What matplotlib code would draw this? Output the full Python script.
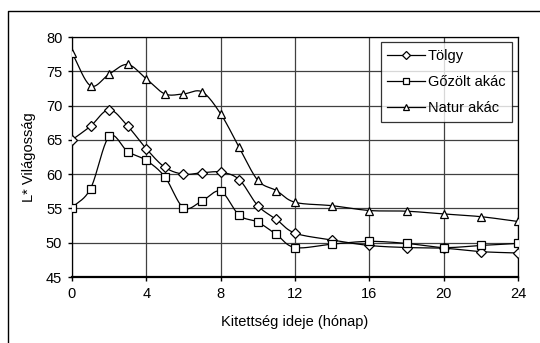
import numpy as np
import matplotlib.pyplot as plt
from matplotlib.lines import Line2D

plt.rcParams['font.family'] = ['Liberation Sans', 'DejaVu Sans']

months = [0, 1, 2, 3, 4, 5, 6, 7, 8, 9, 10, 11, 12, 14, 16, 18, 20, 22, 24]
tolgy = [65.0, 67.0, 69.4, 67.0, 63.7, 61.0, 60.0, 60.2, 60.3, 59.2, 55.4, 53.4,
         51.4, 50.4, 49.6, 49.3, 49.2, 48.7, 48.5]
gozolt = [55.1, 57.9, 65.5, 63.3, 62.0, 59.6, 55.1, 56.1, 57.5, 54.0, 53.0, 51.2,
          49.3, 49.8, 50.2, 49.9, 49.3, 49.6, 49.9]
natur = [77.7, 72.9, 74.6, 76.0, 73.9, 71.7, 71.7, 72.0, 68.8, 63.9, 59.1, 57.6,
         55.9, 55.4, 54.7, 54.6, 54.2, 53.8, 53.1]
labels = ['Tölgy', 'Gőzölt akác', 'Natur akác']
markers = ['D', 's', '^']


def smooth(x, y, n=20):
    # Catmull-Rom style smoothing, like Excel's "smoothed line"
    x = np.asarray(x, float)
    y = np.asarray(y, float)
    px = np.concatenate([[2 * x[0] - x[1]], x, [2 * x[-1] - x[-2]]])
    py = np.concatenate([[2 * y[0] - y[1]], y, [2 * y[-1] - y[-2]]])
    t = np.linspace(0, 1, n)
    xs, ys = [], []
    for i in range(1, len(px) - 2):
        for p, out in ((px, xs), (py, ys)):
            p0, p1, p2, p3 = p[i - 1], p[i], p[i + 1], p[i + 2]
            m1 = (p2 - p0) / 2
            m2 = (p3 - p1) / 2
            h00 = 2 * t**3 - 3 * t**2 + 1
            h10 = t**3 - 2 * t**2 + t
            h01 = -2 * t**3 + 3 * t**2
            h11 = t**3 - t**2
            out.extend(h00 * p1 + h10 * m1 + h01 * p2 + h11 * m2)
    return np.array(xs), np.array(ys)


fig = plt.figure(figsize=(5.4, 3.43), dpi=100)
# chart area border (only left and top edges fall inside the picture)
fy = 1 - 11 / 343
fx = 8 / 540
fig.lines.append(Line2D([fx, fx, 1], [0, fy, fy], transform=fig.transFigure,
                        color='black', linewidth=1.0))
ax = fig.add_axes([0.1333, 0.1924, 0.826, 0.6996])

for ys, m, lab in zip([tolgy, gozolt, natur], markers, labels):
    ms = 5 if m == 'D' else 6
    sx, sy = smooth(months, ys)
    ax.plot(sx, sy, color='black', linewidth=0.9, zorder=3)
    ax.plot(months, ys, linestyle='none', marker=m, markersize=ms,
            markerfacecolor='white', markeredgecolor='black', markeredgewidth=0.9, zorder=4)
    ax.plot([], [], color='black', linewidth=0.9, marker=m,
            markersize=ms - 1, markerfacecolor='white',
            markeredgecolor='black', markeredgewidth=0.9, label=lab)

ax.set_xlim(0, 24)
ax.set_ylim(45, 80)
ax.set_xticks(range(0, 25, 4))
ax.set_yticks(range(45, 81, 5))
ax.grid(True, color='#404040', linewidth=0.9)
ax.set_axisbelow(True)
ax.tick_params(labelsize=10.5, length=3, width=1, direction='out', pad=4)
for s in ax.spines.values():
    s.set_color('black')
    s.set_linewidth(0.9)
ax.spines['bottom'].set_linewidth(1.6)

ax.set_xlabel('Kitettség ideje (hónap)', fontsize=10.5, labelpad=10)
ax.set_ylabel('L* Világosság', fontsize=10.5, labelpad=7)

leg = ax.legend(loc='upper right', bbox_to_anchor=(0.987, 0.979), borderaxespad=0,
                fontsize=10.5, frameon=True, fancybox=False, edgecolor='black',
                handlelength=2.6, borderpad=0.45, labelspacing=0.85, handletextpad=0.2)
leg.get_frame().set_linewidth(0.9)

fig.savefig('out.png', dpi=100)
